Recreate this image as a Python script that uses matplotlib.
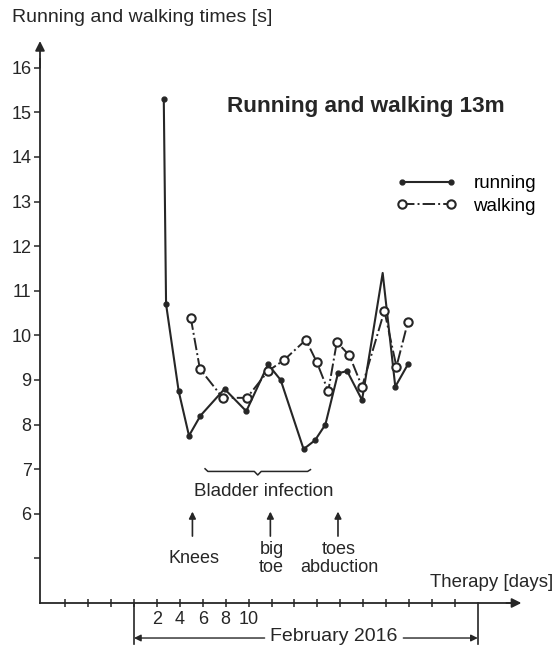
import numpy as np
import matplotlib
matplotlib.use("Agg")
import matplotlib.pyplot as plt
from matplotlib.lines import Line2D

plt.rcParams["font.family"] = ["Liberation Sans", "DejaVu Sans"]

INK = "#262626"

# running times [s] per therapy day (February 2016)
run_days = [2.6, 2.8, 3.9, 4.8, 5.8, 7.9, 9.8, 11.7, 12.8, 14.8, 15.8, 16.7,
            17.8, 18.6, 19.9, 21.7, 22.8, 23.9]
run_times = [15.3, 10.7, 8.75, 7.75, 8.2, 8.8, 8.3, 9.35, 9.0, 7.45, 7.65, 8.0,
             9.15, 9.2, 8.55, 11.4, 8.85, 9.35]
run_marked = [True] * 15 + [False, True, True]

# walking times [s]
walk_days = [4.95, 5.75, 7.75, 9.85, 11.7, 13.1, 15.0, 15.95, 16.95, 17.7,
             18.8, 19.9, 21.85, 22.9, 23.9]
walk_times = [10.4, 9.25, 8.6, 8.6, 9.2, 9.45, 9.9, 9.4, 8.75, 9.85, 9.55,
              8.85, 10.55, 9.3, 10.3]

y_ticks = list(range(5, 17))
y_labels = [""] + [str(v) for v in range(6, 17)]
x_ticks = list(range(-6, 29, 2))
x_labels = {2: "2", 4: "4", 6: "6", 8: "8", 10: "10"}

# therapy events (day)
events = [("Knees", 5.1), ("big\ntoe", 11.9), ("toes\nabduction", 17.8)]
bladder_span = (6.2, 15.4)

fig = plt.figure(figsize=(5.57, 6.46), dpi=100, facecolor="white")
ax = fig.add_axes([0, 0, 1, 1])
ax.set_xlim(-11.69, 36.91)
ax.set_ylim(3.036, 17.52)

# axes drawn as arrows from the origin
x0, y0 = -8.2, 4
for side in ("top", "right"):
    ax.spines[side].set_visible(False)
ax.spines["left"].set_position(("data", x0))
ax.spines["bottom"].set_position(("data", y0))
ax.spines["left"].set_bounds(y0, 16.2)
ax.spines["bottom"].set_bounds(x0, 33.0)
for side in ("left", "bottom"):
    ax.spines[side].set_color(INK)
    ax.spines[side].set_linewidth(1.3)
ax.annotate("", xy=(x0, 16.6), xytext=(x0, 16.0),
            arrowprops=dict(arrowstyle="-|>", color=INK, lw=1.3,
                            mutation_scale=14, shrinkA=0, shrinkB=0))
ax.annotate("", xy=(33.8, y0), xytext=(32.5, y0),
            arrowprops=dict(arrowstyle="-|>", color=INK, lw=1.3,
                            mutation_scale=14, shrinkA=0, shrinkB=0))

ax.set_yticks(y_ticks)
ax.set_yticklabels(y_labels)
ax.set_xticks(x_ticks)
ax.set_xticklabels([x_labels.get(t, "") for t in x_ticks])
ax.tick_params(axis="y", direction="out", length=4, width=1.1, colors=INK,
               labelsize=13, pad=2)
ax.tick_params(axis="x", direction="inout", length=6, width=1.1, colors=INK,
               labelsize=13, pad=3)

# series
ax.plot(run_days, run_times, "-", color=INK, lw=1.5)
ax.plot([d for d, m in zip(run_days, run_marked) if m],
        [t for t, m in zip(run_times, run_marked) if m],
        "o", color=INK, ms=3.5, ls="none")
ax.plot(walk_days, walk_times, "-.", color=INK, lw=1.4, marker="o", ms=6,
        mfc="white", mec=INK, mew=1.5)

handles = [
    Line2D([], [], color=INK, lw=1.5, marker="o", ms=3.5),
    Line2D([], [], color=INK, lw=1.4, ls="-.", marker="o", ms=6,
           mfc="white", mec=INK, mew=1.5),
]
ax.legend(handles, ["running", "walking"], loc="upper left",
          bbox_to_anchor=(0.712, 0.729), frameon=False, numpoints=2,
          handlelength=3.2, handletextpad=0.9, borderpad=0,
          borderaxespad=0, labelspacing=0.3, fontsize=13.5)

# bladder infection brace
b0, b1 = bladder_span
bm = (b0 + b1) / 2
by = 6.95
ax.plot([b0, b0 + 0.25, bm - 0.3, bm, bm + 0.3, b1 - 0.25, b1],
        [by + 0.06, by, by, by - 0.08, by, by, by + 0.04],
        color=INK, lw=1.1)
ax.text(11.3, 6.49, "Bladder infection", ha="center", va="center",
        fontsize=13.5, color=INK)

for label, day in events:
    ax.annotate("", xy=(day, 6.05), xytext=(day, 5.5),
                arrowprops=dict(arrowstyle="-|>", color=INK, lw=1.2,
                                mutation_scale=10, shrinkA=0, shrinkB=0))
    ax.text(day + 0.1, 5.0, label, ha="center", va="center", fontsize=13,
            color=INK, linespacing=1.1)

ax.text(25.8, 4.47, "Therapy [days]", ha="left", va="center", fontsize=13.4,
        color=INK)

# February bracket under the axis
for d in (0, 30):
    ax.plot([d, d], [y0, 3.08], color=INK, lw=1.2)
ax.annotate("", xy=(0, 3.215), xytext=(11.4, 3.215),
            arrowprops=dict(arrowstyle="-|>", color=INK, lw=1.0,
                            mutation_scale=10, shrinkA=0, shrinkB=0))
ax.annotate("", xy=(30, 3.215), xytext=(23.5, 3.215),
            arrowprops=dict(arrowstyle="-|>", color=INK, lw=1.0,
                            mutation_scale=10, shrinkA=0, shrinkB=0))
ax.text(17.4, 3.25, "February 2016", ha="center", va="center", fontsize=14,
        color=INK)

fig.text(12 / 557, 1 - 18 / 646, "Running and walking times [s]", ha="left",
         va="center", fontsize=14, color=INK)
ax.text(20.24, 15.14, "Running and walking 13m", ha="center", va="center",
        fontsize=16.2, fontweight="bold", color=INK)

fig.savefig("out.png", dpi=100, facecolor="white")
